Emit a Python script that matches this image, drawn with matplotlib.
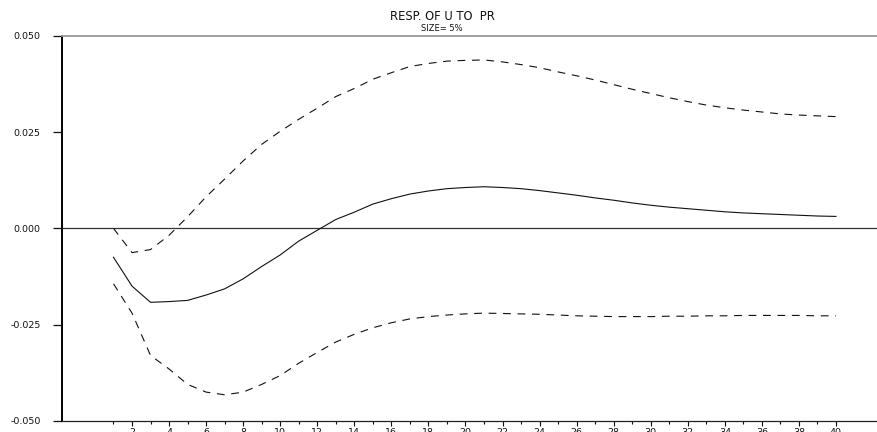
import matplotlib
matplotlib.use("Agg")
import matplotlib.pyplot as plt
import numpy as np

periods = list(range(1, 41))
response = [-0.0075, -0.0150, -0.0192, -0.0190, -0.0187, -0.0173, -0.0157, -0.0131, -0.0099, -0.0069,
            -0.0033, -0.0005, 0.0023, 0.0042, 0.0063, 0.0077, 0.0089, 0.0097, 0.0103, 0.0106,
            0.0108, 0.0106, 0.0103, 0.0098, 0.0092, 0.0086, 0.0079, 0.0073, 0.0066, 0.0060,
            0.0055, 0.0051, 0.0047, 0.0043, 0.0040, 0.0038, 0.0036, 0.0034, 0.0032, 0.0031]
upper = [0.0000, -0.0063, -0.0055, -0.0018, 0.0030, 0.0082, 0.0128, 0.0175, 0.0218, 0.0252,
         0.0283, 0.0312, 0.0342, 0.0363, 0.0387, 0.0404, 0.0420, 0.0428, 0.0434, 0.0436,
         0.0437, 0.0432, 0.0425, 0.0417, 0.0406, 0.0396, 0.0385, 0.0373, 0.0361, 0.0350,
         0.0339, 0.0329, 0.0320, 0.0313, 0.0307, 0.0302, 0.0297, 0.0294, 0.0292, 0.0290]
lower = [-0.0144, -0.0220, -0.0330, -0.0365, -0.0405, -0.0425, -0.0432, -0.0425, -0.0405, -0.0382,
         -0.0350, -0.0322, -0.0295, -0.0275, -0.0258, -0.0245, -0.0235, -0.0229, -0.0225, -0.0222,
         -0.0220, -0.0221, -0.0222, -0.0223, -0.0225, -0.0227, -0.0228, -0.0229, -0.0229, -0.0229,
         -0.0228, -0.0228, -0.0227, -0.0227, -0.0226, -0.0226, -0.0226, -0.0226, -0.0227, -0.0227]
y_ticks = [-0.050, -0.025, 0.000, 0.025, 0.050]
y_labels = ["-0.050", "-0.025", "0.000", "0.025", "0.050"]
x_major = list(range(2, 41, 2))
x_minor = list(range(1, 40, 2))
title = "RESP. OF U TO  PR"
subtitle = "SIZE= 5%"

plt.rcParams['font.family'] = ['DejaVu Sans']
W, H = 878, 432
fig = plt.figure(figsize=(W / 100, H / 100), dpi=100)
left_px, right_px, top_px, bot_px = 62, 878, 35.7, 421
ax = fig.add_axes([left_px / W, (H - bot_px) / H, (right_px - left_px) / W, (bot_px - top_px) / H])

ax.plot(periods, response, color='#111111', lw=0.8, solid_joinstyle='miter')
ax.plot(periods, upper, color='#111111', lw=0.8, dashes=(7, 6))
ax.plot(periods, lower, color='#111111', lw=0.8, dashes=(7, 6))
ax.axhline(0, color='#333333', lw=0.9, zorder=1)

ax.set_xlim(-1.78, 42.27)
ax.set_ylim(-0.050, 0.050)

ax.set_yticks(y_ticks)
ax.set_yticklabels(y_labels, fontsize=6.8)
ax.tick_params(axis='y', direction='out', length=6.5, width=0.9, pad=9, colors='#111111')
ax.yaxis.get_major_ticks()[-1].tick1line.set_color('#999999')

ax.set_xticks(x_major)
ax.set_xticklabels([str(v) for v in x_major], fontsize=6.8)
ax.set_xticks(x_minor, minor=True)
ax.tick_params(axis='x', which='major', direction='out', length=3.6, width=0.8, pad=1.2, colors='#111111')
ax.tick_params(axis='x', which='minor', direction='out', length=1.8, width=0.8, colors='#111111')

ax.spines['right'].set_visible(False)
ax.spines['top'].set_color('#999999')
ax.spines['top'].set_linewidth(1.3)
ax.spines['left'].set_linewidth(1.4)
ax.spines['left'].set_color('#000000')
ax.spines['bottom'].set_linewidth(0.9)
ax.spines['bottom'].set_color('#222222')

fig.text(442 / W, 1 - 16 / H, title, ha='center', va='center', fontsize=8.3, color='#111111')
fig.text(442 / W, 1 - 28.5 / H, subtitle, ha='center', va='center', fontsize=6.0, color='#111111')

fig.savefig("out.png", dpi=100)
